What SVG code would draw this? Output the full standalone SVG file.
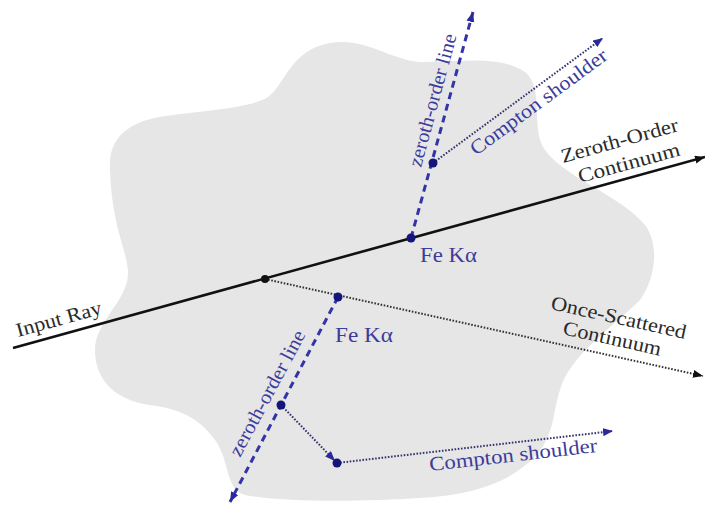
<svg xmlns="http://www.w3.org/2000/svg" width="705" height="507" viewBox="0 0 705 507">
<style>
.ray{stroke:#111;stroke-width:2.6;fill:none}
.dash{stroke:#3333aa;stroke-width:3;stroke-dasharray:7 5;fill:none}
.dotk{stroke:#333;stroke-width:2;stroke-dasharray:1.6 1.6;fill:none}
.dotb{stroke:#33336e;stroke-width:2;stroke-dasharray:1.6 1.6;fill:none}
.pt{fill:#14147a}
.lk{font-family:"Liberation Serif",serif;font-size:20px;fill:#2a2a2a}
.lb{font-family:"Liberation Serif",serif;font-size:20px;fill:#3c3c9c}
</style>
<defs>
<marker id="ak" markerUnits="userSpaceOnUse" markerWidth="11" markerHeight="9" refX="10" refY="4" orient="auto"><path d="M0,0 L10,4 L0,8 z" fill="#111"/></marker>
<marker id="ab" markerUnits="userSpaceOnUse" markerWidth="11" markerHeight="9" refX="10" refY="4" orient="auto"><path d="M0,0 L10,4 L0,8 z" fill="#2a2a9a"/></marker>
</defs>
<g id="medium">
<path d="M110,170 C108,140 125,122 165,116 C210,110 250,108 268,97 C285,85 290,50 330,43 C365,37 390,60 420,62 C460,62 500,55 525,72 C545,88 530,130 545,150 C565,178 620,195 645,225 C660,245 655,280 640,300 C610,330 570,355 560,390 C552,412 556,440 528,463 C502,485 470,495 420,498 C360,502 280,502 245,495 C225,490 230,460 215,440 C200,420 185,410 150,405 C115,400 95,380 95,350 C95,320 130,300 128,270 C125,245 112,225 110,170 Z" fill="#e6e6e6"/>
</g>
<g id="connectors">
<line class="ray" x1="13" y1="348" x2="705" y2="157" marker-end="url(#ak)"/>
<line class="dotk" x1="265" y1="279" x2="703" y2="376" marker-end="url(#ak)"/>
<line class="dash" x1="411" y1="238" x2="473" y2="12" marker-end="url(#ab)"/>
<line class="dotb" x1="433" y1="163" x2="603" y2="38" marker-end="url(#ab)"/>
<line class="dash" x1="338" y1="297" x2="230" y2="502" marker-end="url(#ab)"/>
<line class="dotb" x1="281" y1="405" x2="335" y2="461" marker-end="url(#ab)"/>
<line class="dotb" x1="337" y1="463" x2="613" y2="431" marker-end="url(#ab)"/>
</g>
<g id="scatter-point"><circle cx="265" cy="279" r="4" fill="#111"/></g>
<g id="fe-upper"><circle class="pt" cx="411" cy="238" r="4.5"/>
<text class="lb" x="420" y="262" textLength="57" lengthAdjust="spacingAndGlyphs">Fe Kα</text></g>
<g id="compton-upper-point"><circle class="pt" cx="433" cy="163" r="4.5"/></g>
<g id="fe-lower"><circle class="pt" cx="338" cy="297" r="4.5"/>
<text class="lb" x="335" y="342" textLength="58" lengthAdjust="spacingAndGlyphs">Fe Kα</text></g>
<g id="compton-lower-point"><circle class="pt" cx="281" cy="405" r="4.5"/><circle class="pt" cx="337" cy="463" r="4.5"/></g>
<g id="labels">
<text class="lk" transform="translate(18,337) rotate(-15.4)" textLength="88" lengthAdjust="spacingAndGlyphs">Input Ray</text>
<text class="lk" transform="translate(563,163) rotate(-15.5)" textLength="121" lengthAdjust="spacingAndGlyphs">Zeroth-Order</text>
<text class="lk" transform="translate(580,183) rotate(-15.3)" textLength="105" lengthAdjust="spacingAndGlyphs">Continuum</text>
<text class="lk" transform="translate(550,309) rotate(12.5)" textLength="138" lengthAdjust="spacingAndGlyphs">Once-Scattered</text>
<text class="lk" transform="translate(562,334) rotate(12.5)" textLength="100" lengthAdjust="spacingAndGlyphs">Continuum</text>
<text class="lb" transform="translate(421,168) rotate(-74.9)" textLength="137" lengthAdjust="spacingAndGlyphs">zeroth-order line</text>
<text class="lb" transform="translate(240,458) rotate(-61.9)" textLength="140" lengthAdjust="spacingAndGlyphs">zeroth-order line</text>
<text class="lb" transform="translate(476,156) rotate(-36.3)" textLength="165" lengthAdjust="spacingAndGlyphs">Compton shoulder</text>
<text class="lb" transform="translate(430,471) rotate(-6.5)" textLength="169" lengthAdjust="spacingAndGlyphs">Compton shoulder</text>
</g>
</svg>
